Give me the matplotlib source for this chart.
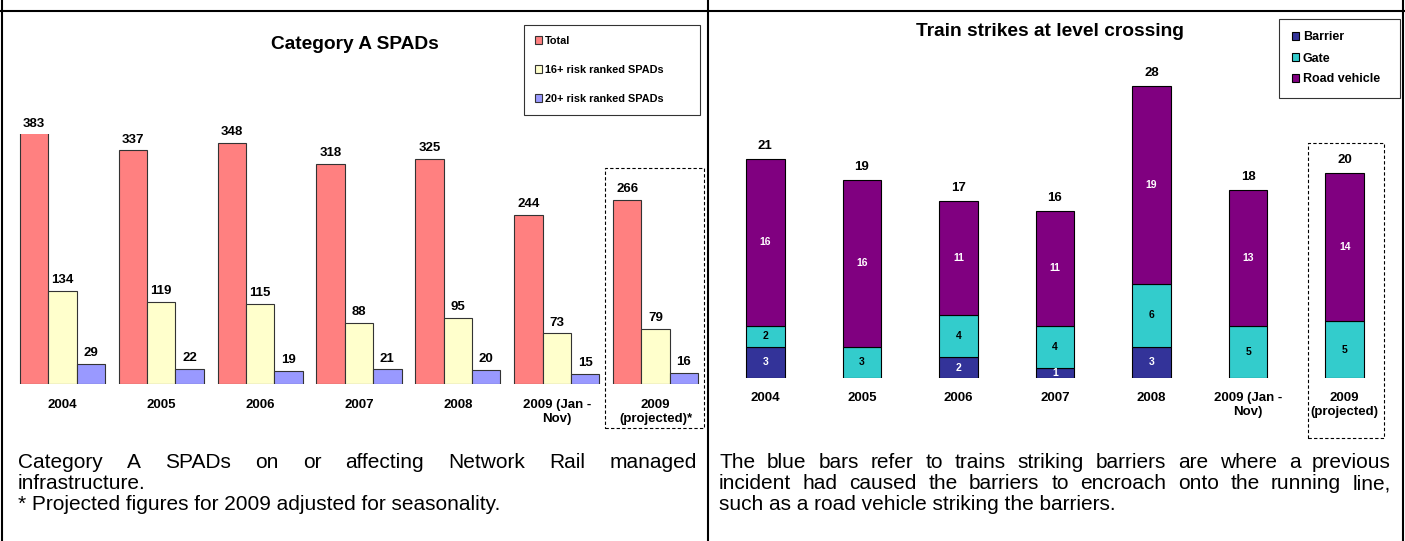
import numpy as np
import matplotlib
matplotlib.use("Agg")
import matplotlib.pyplot as plt
from matplotlib.patches import Rectangle
from matplotlib.lines import Line2D

plt.rcParams['font.family'] = ['Liberation Sans', 'DejaVu Sans']

# ---- data ----
spad_years = ['2004', '2005', '2006', '2007', '2008', '2009 (Jan -\nNov)', '2009\n(projected)*']
spad_total = [383, 337, 348, 318, 325, 244, 266]
spad_16 = [134, 119, 115, 88, 95, 73, 79]
spad_20 = [29, 22, 19, 21, 20, 15, 16]
spad_names = ['Total', '16+ risk ranked SPADs', '20+ risk ranked SPADs']

strike_years = ['2004', '2005', '2006', '2007', '2008', '2009 (Jan -\nNov)', '2009\n(projected)']
barrier = [3, 0, 2, 1, 3, 0, 0]
gate = [2, 3, 4, 4, 6, 5, 5.45]
road_vehicle = [16, 16, 11, 11, 19, 13, 14.2]
strike_names = ['Barrier', 'Gate', 'Road vehicle']

left_note = [
    ("Category A SPADs on or affecting Network Rail managed", True),
    ("infrastructure.", False),
    ("* Projected figures for 2009 adjusted for seasonality.", False),
]
right_note = [
    ("The blue bars refer to trains striking barriers are where a previous", True),
    ("incident had caused the barriers to encroach onto the running line,", True),
    ("such as a road vehicle striking the barriers.", False),
]

W, H = 1405, 541
fig = plt.figure(figsize=(W / 100, H / 100), dpi=100)


def fx(x):
    return x / W


def fy(y):
    return 1 - y / H


# ---- frame lines ----
for x in [2, 708, 1403]:
    fig.add_artist(Line2D([fx(x), fx(x)], [0, 1], color='black', lw=1.5))
fig.add_artist(Line2D([0, 1], [fy(11), fy(11)], color='black', lw=1.5))

# ---- left chart ----
ax1 = fig.add_axes([fx(13), fy(384), 692 / W, 249.5 / H])
x = np.arange(len(spad_years))
w = 0.287
cols1 = ['#FF8080', '#FFFFCC', '#9999FF']
ymax1 = 360
for i, (vals, c, name) in enumerate(zip([spad_total, spad_16, spad_20], cols1, spad_names)):
    pos = x + (i - 1) * w
    ax1.bar(pos, vals, w, color=c, edgecolor='#333333', linewidth=0.8, label=name)
    for p, v in zip(pos, vals):
        ax1.annotate(str(v), (p, min(v, ymax1)), xytext=(0, 3.5), textcoords='offset points',
                     ha='center', va='bottom', fontsize=9.5, fontweight='bold',
                     annotation_clip=False)
ax1.set_ylim(0, ymax1)
ax1.set_xlim(-0.5, 6.5)
ax1.set_xticks(x, spad_years, fontsize=9.5, fontweight='bold')
ax1.tick_params(axis='x', length=0, pad=11)
ax1.set_yticks([])
for s in ax1.spines.values():
    s.set_visible(False)
leg = ax1.legend(loc='upper left', mode='expand',
                 bbox_to_anchor=(fx(524), fy(116), 176 / W, 91 / H), bbox_transform=fig.transFigure,
                 prop={'size': 7.8, 'weight': 'bold'}, frameon=True, fancybox=False, edgecolor='black',
                 handlelength=0.65, handleheight=0.65, handletextpad=0.3, labelspacing=1.75,
                 borderpad=1.0, borderaxespad=0)
leg.get_frame().set_linewidth(0.8)

fig.text(fx(355), fy(45), 'Category A SPADs', ha='center', va='center',
         fontsize=13.8, fontweight='bold')
fig.add_artist(Rectangle((fx(605), fy(428)), fx(704) - fx(605), fy(168) - fy(428),
                         fill=False, ls=(0, (3, 2)), lw=0.8, ec='black',
                         transform=fig.transFigure))

# ---- right chart ----
ax2 = fig.add_axes([fx(717), fy(378), 676 / W, 334 / H])
x2 = np.arange(len(strike_years))
w2 = 0.4
cols2 = ['#333399', '#33CCCC', '#800080']
txtc = ['white', 'black', 'white']
bottom = np.zeros(len(x2))
for vals, c, tc, name in zip([barrier, gate, road_vehicle], cols2, txtc, strike_names):
    vals = np.array(vals, dtype=float)
    ax2.bar(x2, vals, w2, bottom=bottom, color=c, edgecolor='black', linewidth=0.8, label=name)
    for p, b, v in zip(x2, bottom, vals):
        if v > 0:
            ax2.text(p, b + v / 2, f'{v:.0f}', ha='center', va='center', color=tc,
                     fontsize=7.5, fontweight='bold')
    bottom = bottom + vals
for p, t in zip(x2, bottom):
    ax2.annotate(f'{t:.0f}', (p, t), xytext=(0, 5), textcoords='offset points',
                 ha='center', va='bottom', fontsize=9.5, fontweight='bold')
ax2.set_ylim(0, 32)
ax2.set_xlim(-0.5, 6.5)
ax2.set_xticks(x2, strike_years, fontsize=9.5, fontweight='bold')
ax2.tick_params(axis='x', length=0, pad=10)
ax2.set_yticks([])
for s in ax2.spines.values():
    s.set_visible(False)
leg2 = ax2.legend(loc='upper left', mode='expand',
                  bbox_to_anchor=(fx(1279), fy(97), 121 / W, 78 / H), bbox_transform=fig.transFigure,
                  prop={'size': 9, 'weight': 'bold'}, frameon=True, fancybox=False, edgecolor='black',
                  handlelength=0.6, handleheight=0.6, handletextpad=0.3, labelspacing=0.72,
                  borderpad=1.0, borderaxespad=0)
leg2.get_frame().set_linewidth(0.8)

fig.text(fx(1050), fy(32), 'Train strikes at level crossing', ha='center', va='center',
         fontsize=13.8, fontweight='bold')
fig.add_artist(Rectangle((fx(1308), fy(438)), fx(1384) - fx(1308), fy(143) - fy(438),
                         fill=False, ls=(0, (3, 2)), lw=0.8, ec='black',
                         transform=fig.transFigure))

# ---- notes with justified lines ----
renderer = fig.canvas.get_renderer()


def note(lines, x0, x1, y0, step=21, size=15):
    for k, (line, just) in enumerate(lines):
        y = fy(y0 + k * step)
        if not just:
            fig.text(fx(x0), y, line, fontsize=size, va='baseline')
            continue
        words = line.split()
        texts = [fig.text(0, y, wd, fontsize=size, va='baseline') for wd in words]
        widths = [t.get_window_extent(renderer).width for t in texts]
        gap = (x1 - x0 - sum(widths)) / (len(words) - 1)
        pos = x0
        for t, wd in zip(texts, widths):
            t.set_x(fx(pos))
            pos += wd + gap


note(left_note, 18, 697, 468)
note(right_note, 719, 1391, 468)

fig.savefig('out.png', dpi=100)
